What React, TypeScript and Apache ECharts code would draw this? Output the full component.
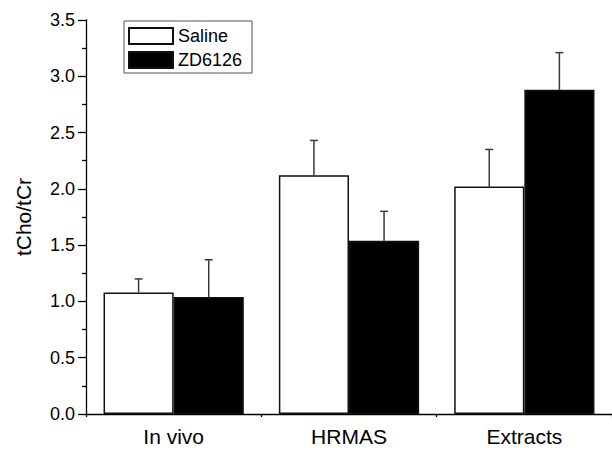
import { useEffect, useRef } from "react";
import * as echarts from "echarts";

const categories = ["In vivo", "HRMAS", "Extracts"];
const seriesNames = ["Saline", "ZD6126"];
const salineMeans = [1.08, 2.12, 2.02];
const salineErrors = [0.12, 0.31, 0.33];
const zdMeans = [1.04, 1.54, 2.88];
const zdErrors = [0.33, 0.26, 0.33];
const yMin = 0;
const yMax = 3.5;
const yInterval = 0.5;

const FONT = "Liberation Sans, Arial, sans-serif";

function errorSeries(name: string, means: number[], errs: number[], side: number) {
  return {
    type: "custom",
    name: name + " error",
    z: 1,
    silent: true,
    data: means.map((m, i) => [i, m, m + errs[i]]),
    renderItem: (params: any, api: any) => {
      const idx = api.value(0);
      const base = api.coord([idx, api.value(1)]);
      const top = api.coord([idx, api.value(2)]);
      const band = api.size([1, 0])[0];
      const x = base[0] + side * band * 0.2;
      const cap = 4;
      const style = { stroke: "#3a3a3a", lineWidth: 1.5 };
      return {
        type: "group",
        children: [
          { type: "line", shape: { x1: x, y1: base[1], x2: x, y2: top[1] }, style },
          { type: "line", shape: { x1: x - cap, y1: top[1], x2: x + cap, y2: top[1] }, style },
        ],
      };
    },
  };
}

export default function App() {
  const ref = useRef<HTMLDivElement>(null);
  useEffect(() => {
    if (!ref.current) return;
    const chart = echarts.init(ref.current, null, { renderer: "svg" });
    chart.setOption({
      animation: false,
      backgroundColor: "#ffffff",
      textStyle: { fontFamily: FONT },
      grid: { left: 86, right: -8, top: 20, bottom: 38, containLabel: false },
      legend: {
        left: 124,
        top: 21,
        orient: "vertical",
        data: seriesNames,
        itemWidth: 44,
        itemHeight: 16,
        itemGap: 6,
        padding: [6, 10, 4, 4],
        borderColor: "#555",
        borderWidth: 1,
        textStyle: { fontSize: 18, color: "#000", fontFamily: FONT },
        icon: "rect",
      },
      xAxis: [
        {
          type: "category",
          data: categories,
          axisLine: { lineStyle: { color: "#000", width: 1.3 } },
          axisTick: { alignWithLabel: true, inside: false, length: 7, lineStyle: { color: "#000", width: 1.3 } },
          axisLabel: { fontSize: 21, color: "#000", margin: 12, fontFamily: FONT },
        },
        {
          type: "category",
          data: categories,
          position: "bottom",
          axisLine: { show: false },
          axisTick: { show: true, inside: false, length: 3, lineStyle: { color: "#000", width: 1.3 } },
          axisLabel: { show: false },
        },
      ],
      yAxis: {
        type: "value",
        min: yMin,
        max: yMax,
        interval: yInterval,
        name: "tCho/tCr",
        nameLocation: "middle",
        nameGap: 52,
        nameTextStyle: { fontSize: 21, color: "#000", fontFamily: FONT },
        axisLine: { show: true, lineStyle: { color: "#000", width: 1.3 } },
        axisTick: { show: true, inside: false, length: 8, lineStyle: { color: "#000", width: 1.3 } },
        minorTick: { show: true, splitNumber: 2, length: 4, lineStyle: { color: "#000", width: 1.3 } },
        splitLine: { show: false },
        axisLabel: {
          fontSize: 18,
          color: "#000",
          margin: 11,
          fontFamily: FONT,
          formatter: (v: number) => v.toFixed(1),
        },
      },
      series: [
        {
          type: "bar",
          name: seriesNames[0],
          data: salineMeans,
          barGap: "0%",
          barCategoryGap: "20%",
          z: 2,
          itemStyle: { color: "#ffffff", borderColor: "#111", borderWidth: 1.5 },
        },
        {
          type: "bar",
          name: seriesNames[1],
          data: zdMeans,
          barGap: "0%",
          barCategoryGap: "20%",
          z: 2,
          itemStyle: { color: "#000000", borderColor: "#111", borderWidth: 1.5 },
        },
        errorSeries(seriesNames[0], salineMeans, salineErrors, -1),
        errorSeries(seriesNames[1], zdMeans, zdErrors, 1),
      ],
    });
    return () => chart.dispose();
  }, []);
  return (
    <div
      ref={ref}
      style={{ position: "absolute", left: 0, top: 0, width: 612, height: 452 }}
    />
  );
}
